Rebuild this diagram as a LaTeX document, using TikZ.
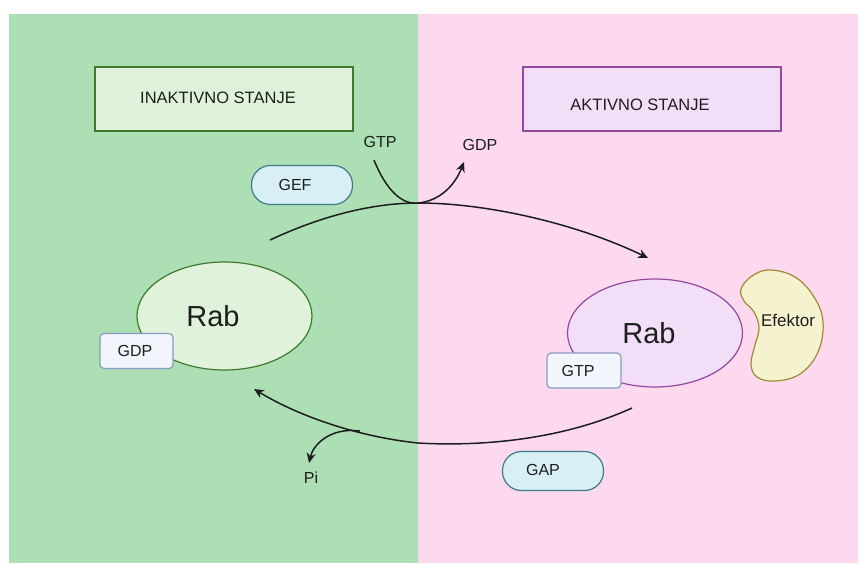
\documentclass[tikz,border=0pt]{standalone}
\usepackage{fontspec}
\setmainfont{Liberation Sans}
\usetikzlibrary{arrows.meta}
\definecolor{bggreen}{HTML}{ACDFB3}
\definecolor{bgpink}{HTML}{FDD9F0}
\definecolor{lgreen}{HTML}{E0F3DA}
\definecolor{dgreen}{HTML}{3E7A2E}
\definecolor{lpurple}{HTML}{F3DEF8}
\definecolor{dpurple}{HTML}{934A9E}
\definecolor{pillfill}{HTML}{D8EFF5}
\definecolor{pilldraw}{HTML}{3D7A8A}
\definecolor{nucfill}{HTML}{F3F5FC}
\definecolor{nucdraw}{HTML}{8A9AC0}
\definecolor{effill}{HTML}{F5F2D0}
\definecolor{efdraw}{HTML}{A08A30}
\definecolor{ink}{HTML}{1E1E1E}
\tikzset{
  lbl/.style={font=\fontsize{16}{18}\selectfont, text=ink, inner sep=0pt},
  statebox/.style={draw, line width=1.3pt, minimum width=258pt, minimum height=64pt},
  statetxt/.style={font=\fontsize{16.5}{19}\selectfont, text=ink, inner sep=0pt},
  pill/.style={draw=pilldraw, fill=pillfill, line width=1.2pt, rounded corners=19pt, minimum width=101pt, minimum height=39pt},
  nuc/.style={draw=nucdraw, fill=nucfill, line width=1.2pt, rounded corners=4pt, minimum height=35pt},
  rab/.style={ellipse, draw, line width=1.2pt, minimum width=175pt, minimum height=108pt, inner sep=0pt},
  rabtxt/.style={font=\fontsize{29}{32}\selectfont, text=ink, inner sep=0pt},
  flow/.style={draw=ink, line width=1.5pt, -{Stealth[length=10pt,width=9pt]}},
  flowplain/.style={draw=ink, line width=1.5pt},
}
\usetikzlibrary{shapes.geometric}
\begin{document}
\begin{tikzpicture}[x=1pt,y=-1pt]
\useasboundingbox (0,0) rectangle (861,565);
\fill[white] (0,0) rectangle (861,565);
\fill[bggreen] (9,14) rectangle (418,563);
\fill[bgpink] (418,14) rectangle (858,563);

\node[statebox, draw=dgreen, fill=lgreen] (inact) at (224,99) {};
\node[statetxt] (inacttxt) at (218,98) {INAKTIVNO STANJE};
\node[statebox, draw=dpurple, fill=lpurple] (act) at (652,99) {};
\node[statetxt] (acttxt) at (640,105) {AKTIVNO STANJE};

\node[pill] (gef) at (302,185) {};
\node[lbl] (geftxt) at (295,185) {GEF};
\node[pill] (gap) at (553,471) {};
\node[lbl] (gaptxt) at (543,470) {GAP};

\node[rab, draw=dgreen, fill=lgreen] (rab1) at (224.5,316) {};
\node[rabtxt] (rab1txt) at (213,316) {Rab};
\node[nuc, minimum width=73pt] (gdp1) at (136.5,351) {};
\node[lbl] (gdp1txt) at (135,351) {GDP};

\node[rab, draw=dpurple, fill=lpurple] (rab2) at (655,333) {};
\node[rabtxt] (rab2txt) at (649,333) {Rab};
\node[nuc, minimum width=74pt] (gtp2) at (584,370.5) {};
\node[lbl] (gtp2txt) at (578,371) {GTP};

\path[draw=efdraw, fill=effill, line width=1.2pt] plot[smooth cycle, tension=0.65] coordinates {
 (741,289) (752,276) (770,270) (795,277) (814,297) (823,322) (818,352) (800,374) (775,381) (757,377) (751,364) (755,345) (759,328) (754,312) (744,301)};
\node[lbl, font=\fontsize{17}{19}\selectfont] (efektor) at (788,320) {Efektor};

\node[lbl] (gtpin) at (380,142) {GTP};
\node[lbl] (gdpout) at (480,145) {GDP};
\node[lbl] (pi) at (311,478) {Pi};

\coordinate (t0) at (270,240);
\coordinate (tm) at (418,203);
\coordinate (t1) at (648,258);
\coordinate (g0) at (374,160);
\coordinate (g1) at (464,162);
\coordinate (b0) at (632,408);
\coordinate (bm) at (418,443);
\coordinate (b1) at (254,389);
\coordinate (p0) at (360,431);
\coordinate (p1) at (309,463);

\path[flow] (t0) .. controls (330,212) and (380,203) .. (tm) .. controls (490,203) and (580,225) .. (t1);
\path[flowplain] (g0) .. controls (386,190) and (402,205) .. (tm);
\path[flow] (tm) .. controls (440,201) and (455,185) .. (g1);
\path[flow] (b0) .. controls (555,443) and (470,446) .. (bm) .. controls (360,437) and (300,417) .. (b1);
\path[flow] (p0) .. controls (330,427) and (313,445) .. (p1);
\end{tikzpicture}
\end{document}
